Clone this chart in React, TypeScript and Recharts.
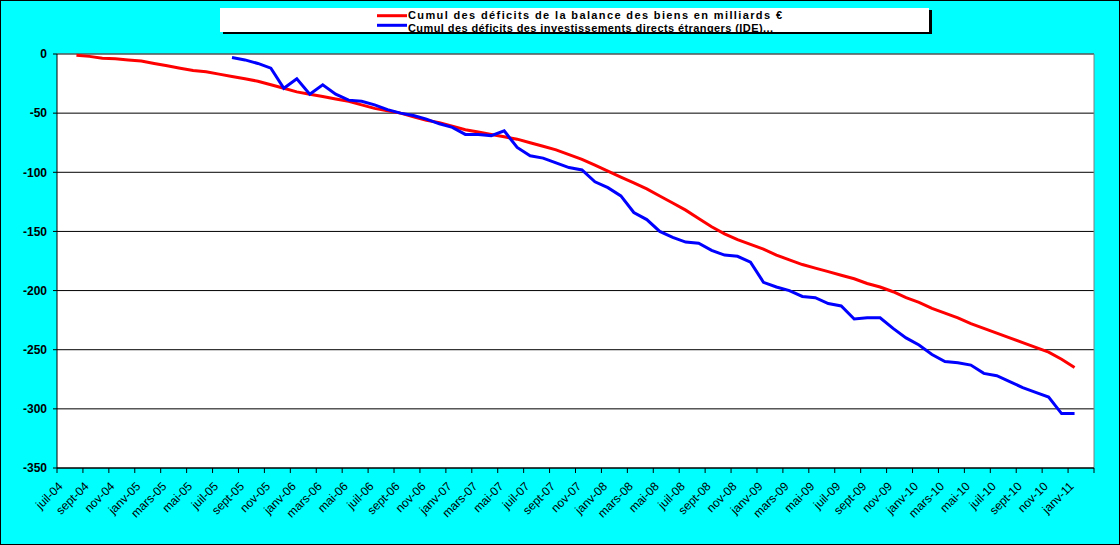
import React from "react";
import {
  LineChart,
  Line,
  XAxis,
  YAxis,
  CartesianGrid,
  ReferenceLine,
} from "recharts";

// french month abbreviations, the axis starts in july 2004
const MONTH_NAMES = ["janv", "févr", "mars", "avr", "mai", "juin", "juil", "août", "sept", "oct", "nov", "déc"];
const FIRST_MONTH = 6; // juil
const FIRST_YEAR = 4;
const MONTH_COUNT = 80; // juil-04 .. févr-11

const CATEGORIES: string[] = [];
for (let i = 0; i < MONTH_COUNT; i++) {
  const m = (FIRST_MONTH + i) % 12;
  const yr = FIRST_YEAR + Math.floor((FIRST_MONTH + i) / 12);
  CATEGORIES.push(`${MONTH_NAMES[m]}-${String(yr).padStart(2, "0")}`);
}

// cumul des déficits de la balance des biens, from août-04
const RED_START = 1;
const RED = [
  -1, -2, -3.5, -4, -5, -6, -8, -10, -12, -14, -15, -17, -19, -21, -23, -26,
  -29, -32, -34, -36, -38, -40, -43, -46, -48, -50, -53, -56, -58, -61, -64,
  -66, -68, -70, -72, -75, -78, -81, -85, -89, -94, -99, -104, -109, -114,
  -120, -126, -132, -139, -146, -152, -157, -161, -165, -170, -174, -178,
  -181, -184, -187, -190, -194, -197, -201, -206, -210, -215, -219, -223,
  -228, -232, -236, -240, -244, -248, -252, -258, -265,
];

// cumul des déficits des IDE, from août-05
const BLUE_START = 13;
const BLUE = [
  -3, -5, -8, -12, -29, -21, -34, -26, -34, -39, -40, -43, -47, -50, -52, -55,
  -59, -62, -68, -68, -69, -65, -79, -86, -88, -92, -96, -98, -108, -113,
  -120, -134, -140, -150, -155, -159, -160, -166, -170, -171, -176, -193,
  -197, -200, -205, -206, -211, -213, -224, -223, -223, -232, -240, -246,
  -254, -260, -261, -263, -270, -272, -277, -282, -286, -290, -304, -304,
];

const Y_TICKS = [0, -50, -100, -150, -200, -250, -300, -350];

const LEGEND_RED = "Cumul des déficits de la balance des biens en milliards €";
const LEGEND_BLUE = "Cumul des déficits des investissements directs étrangers (IDE)...";

const data = CATEGORIES.map((label, i) => ({
  x: i + 0.5,
  label,
  red: i >= RED_START && i - RED_START < RED.length ? RED[i - RED_START] : null,
  blue: i >= BLUE_START && i - BLUE_START < BLUE.length ? BLUE[i - BLUE_START] : null,
}));

const X_TICKS: number[] = [];
for (let i = 0; i <= MONTH_COUNT; i += 2) X_TICKS.push(i);

const CHART_W = 1118;
const CHART_H = 543;
const MARGIN = { top: 53, right: 25, left: 0, bottom: 16 };
const Y_AXIS_W = 56;
const PLOT_W = CHART_W - MARGIN.left - MARGIN.right - Y_AXIS_W;
const BAND = PLOT_W / MONTH_COUNT;

const FONT = "'Liberation Sans', Arial, sans-serif";

function MonthTick(props: any) {
  const { x, y, payload } = props;
  const v = payload.value;
  if (v >= CATEGORIES.length) return null;
  const cx = x + BAND / 2;
  const cy = y + 14;
  return (
    <text
      x={cx}
      y={cy}
      transform={`rotate(-45 ${cx} ${cy})`}
      textAnchor="end"
      fontSize={12}
      fontFamily={FONT}
      fill="#000"
    >
      {CATEGORIES[v]}
    </text>
  );
}

function LegendBox() {
  return (
    <svg
      width={709}
      height={24}
      style={{
        position: "absolute",
        left: 219,
        top: 7,
        background: "#fff",
        boxShadow: "3px 2px 0 #000",
        overflow: "hidden",
      }}
    >
      <line x1={157} x2={187} y1={7.7} y2={7.7} stroke="#ff0000" strokeWidth={3} />
      <text
        x={188}
        y={11}
        fontSize={11}
        fontWeight="bold"
        fontFamily={FONT}
        textLength={374}
        lengthAdjust="spacing"
      >
        {LEGEND_RED}
      </text>
      <line x1={157} x2={187} y1={17.3} y2={17.3} stroke="#0000ff" strokeWidth={3} />
      <text
        x={188}
        y={23.5}
        fontSize={11}
        fontWeight="bold"
        fontFamily={FONT}
        textLength={365}
        lengthAdjust="spacing"
      >
        {LEGEND_BLUE}
      </text>
    </svg>
  );
}

export default function App() {
  return (
    <div
      style={{
        position: "relative",
        width: 1120,
        height: 545,
        boxSizing: "border-box",
        border: "1px solid #000",
        background: "#00ffff",
      }}
    >
      <style>{"body{margin:0}"}</style>
      <LineChart width={CHART_W} height={CHART_H} data={data} margin={MARGIN}>
        <CartesianGrid vertical={false} stroke="#000" fill="#fff" fillOpacity={1} />
        <XAxis
          dataKey="x"
          type="number"
          domain={[0, MONTH_COUNT]}
          ticks={X_TICKS}
          interval={0}
          height={60}
          stroke="#000"
          tickSize={5}
          tickMargin={0}
          tick={<MonthTick />}
        />
        <YAxis
          type="number"
          domain={[-350, 0]}
          ticks={Y_TICKS}
          width={Y_AXIS_W}
          stroke="#000"
          tickSize={4}
          tickMargin={6}
          tick={{ fill: "#000", fontSize: 12, fontWeight: "bold", fontFamily: FONT }}
        />
        <ReferenceLine y={0} stroke="#808080" />
        <ReferenceLine x={MONTH_COUNT} stroke="#808080" />
        <Line
          type="linear"
          dataKey="red"
          stroke="#ff0000"
          strokeWidth={3}
          dot={false}
          isAnimationActive={false}
        />
        <Line
          type="linear"
          dataKey="blue"
          stroke="#0000ff"
          strokeWidth={3}
          dot={false}
          isAnimationActive={false}
        />
      </LineChart>
      <LegendBox />
    </div>
  );
}
